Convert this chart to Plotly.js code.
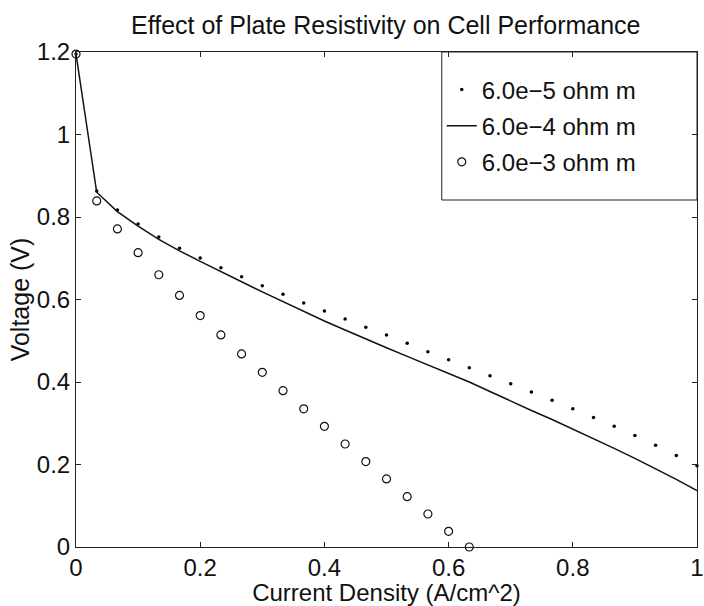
<!DOCTYPE html>
<html>
<head>
<meta charset="utf-8">
<script src="https://cdn.plot.ly/plotly-3.0.1.min.js"></script>
<style>html,body{margin:0;padding:0;background:#fff;}#chart{width:704px;height:606px;}</style>
</head>
<body>
<div id="chart"></div>
<script>
// Current density steps (A/cm^2): 0, 1/30, 2/30, ... 1
var currentDensity = [];
for (var i = 0; i <= 30; i++) currentDensity.push(i / 30);

var seriesNames = ["6.0e\u22125 ohm m", "6.0e\u22124 ohm m", "6.0e\u22123 ohm m"];

// 6.0e-5 ohm m (dots)
var voltageLow = [1.195, 0.863, 0.817, 0.783, 0.7515, 0.724, 0.7006, 0.677, 0.655, 0.6335,
  0.6125, 0.5915, 0.572, 0.553, 0.533, 0.514, 0.494, 0.4735, 0.454, 0.4347,
  0.415, 0.396, 0.376, 0.3555, 0.335, 0.314, 0.2925, 0.270, 0.2465, 0.222, 0.197];

// 6.0e-4 ohm m (solid line)
var voltageMid = [1.195, 0.860, 0.813, 0.778, 0.746, 0.718, 0.6926, 0.667, 0.643, 0.6185,
  0.5945, 0.5705, 0.548, 0.526, 0.504, 0.483, 0.462, 0.441, 0.420, 0.400,
  0.377, 0.353, 0.331, 0.309, 0.286, 0.2635, 0.239, 0.215, 0.190, 0.164, 0.1365];

// 6.0e-3 ohm m (open circles) - ends at zero voltage
var currentHigh = currentDensity.slice(0, 20);
var voltageHigh = [1.195, 0.839, 0.771, 0.7135, 0.660, 0.610, 0.561, 0.514, 0.468, 0.4235,
  0.379, 0.335, 0.2925, 0.2497, 0.207, 0.165, 0.122, 0.080, 0.038, 0.0];

var xTicks = [0, 0.2, 0.4, 0.6, 0.8, 1];
var yTicks = [0, 0.2, 0.4, 0.6, 0.8, 1, 1.2];

var FONT = '"Liberation Sans", Arial, Helvetica, sans-serif';

var traces = [
  {x: currentDensity, y: voltageLow, name: seriesNames[0], type: 'scatter', mode: 'markers',
   marker: {color: '#000', size: 3.5, symbol: 'circle'}, cliponaxis: false, legendgroup: 'a'},
  {x: currentDensity, y: voltageMid, name: seriesNames[1], type: 'scatter', mode: 'lines',
   line: {color: '#111', width: 1.5}, cliponaxis: false, legendgroup: 'b'},
  {x: currentHigh, y: voltageHigh, name: seriesNames[2], type: 'scatter', mode: 'markers',
   marker: {color: '#111', size: 8, symbol: 'circle-open', line: {width: 1.2, color: '#111'}},
   cliponaxis: false, legendgroup: 'c'}
];

var axisCommon = {
  showgrid: false, zeroline: false, showline: true, linecolor: '#222', linewidth: 1,
  mirror: 'ticks', ticks: 'inside', ticklen: 5, tickcolor: '#222', tickwidth: 1,
  ticklabeloverflow: 'allow',
  tickfont: {family: FONT, size: 24, color: '#111'}
};

var layout = {
  width: 704, height: 606,
  margin: {l: 76, r: 7, t: 52, b: 59, pad: 0},
  paper_bgcolor: '#fff', plot_bgcolor: '#fff',
  font: {family: FONT, color: '#111'},
  title: {text: 'Effect of Plate Resistivity on Cell Performance',
    font: {family: FONT, size: 25, color: '#111'},
    x: 0.548, xanchor: 'center', xref: 'container', y: 0.944, yanchor: 'bottom', yref: 'container'},
  xaxis: Object.assign({}, axisCommon, {range: [-0.00001, 1.00001], tickvals: xTicks, ticktext: xTicks.map(String),
    ticklabelstandoff: -1,
    title: {text: 'Current Density (A/cm^2)', font: {family: FONT, size: 24, color: '#111'}, standoff: 9}}),
  yaxis: Object.assign({}, axisCommon, {range: [-0.00001, 1.20001], tickvals: yTicks, ticktext: yTicks.map(String),
    title: {text: 'Voltage (V)', font: {family: FONT, size: 25, color: '#111'}, standoff: 0}}),
  showlegend: true,
  legend: {x: 0.589, xanchor: 'left', y: 0.969, yanchor: 'top', bgcolor: 'rgba(0,0,0,0)',
    borderwidth: 0, font: {family: FONT, size: 24, color: '#111'},
    traceorder: 'grouped', tracegroupgap: 2},
  shapes: [{type: 'rect', xref: 'paper', yref: 'paper', x0: 0.589, x1: 1, y0: 0.701, y1: 1,
    line: {color: '#222', width: 1}, fillcolor: 'rgba(0,0,0,0)'}]
};

Plotly.newPlot('chart', traces, layout, {displayModeBar: false, staticPlot: true});
</script>
</body>
</html>
